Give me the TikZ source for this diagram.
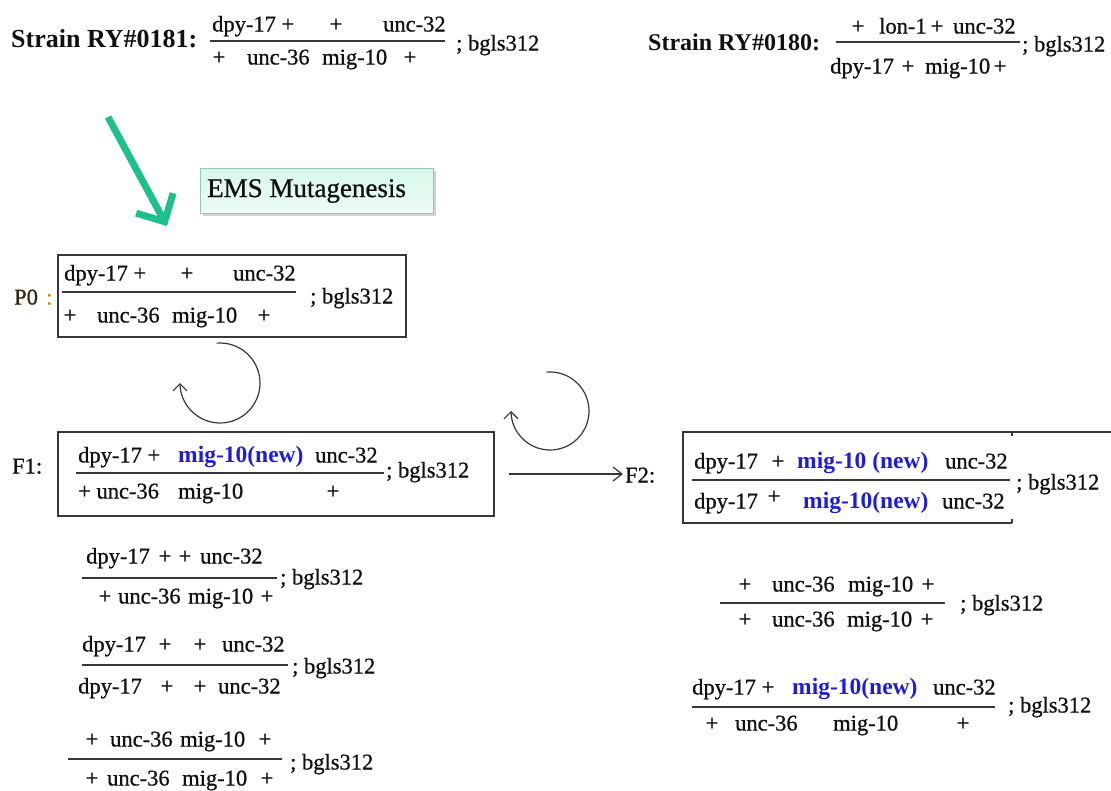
\documentclass[tikz,border=0pt]{standalone}
\usepackage{fontspec}
\setmainfont{Liberation Serif}[UprightFeatures={FakeBold=0.8}]
\usetikzlibrary{arrows.meta,shadows}
\definecolor{ink}{RGB}{17,17,17}
\definecolor{mblue}{RGB}{30,30,215}
\definecolor{emsgreen}{RGB}{32,192,140}
\definecolor{boxline}{RGB}{55,55,55}
\definecolor{pzero}{RGB}{50,40,10}
\definecolor{colonc}{RGB}{210,140,20}
\definecolor{emstop}{RGB}{214,247,232}
\definecolor{emsbot}{RGB}{238,252,246}
\definecolor{emsedge}{RGB}{150,200,182}
\newcounter{tkn}
\newcommand\gtok[4][]{\stepcounter{tkn}\node[tok,#1] (tk\arabic{tkn}) at (#2,#3) {#4};}
\newcommand\gplus[2]{\stepcounter{tkn}\node[tok,anchor=center] (tk\arabic{tkn}) at (#1,#2) {+};}
\newcommand\gnew[3]{\gtok[newtok]{#1}{#2}{#3}}
\begin{document}
\begin{tikzpicture}[x=1pt,y=-1pt,
  tok/.style={anchor=west,inner sep=0pt,yshift=-4pt,text=ink,font=\fontsize{22.5}{27}\selectfont,text height=0.7em,text depth=0.2em},
  newtok/.style={text=mblue,font=\fontsize{23.5}{28}\selectfont\bfseries},
  strain/.style={anchor=west,inner sep=0pt,text=ink,font=\fontsize{24}{28}\selectfont\bfseries,text height=0.7em,text depth=0.2em},
  frac/.style={draw=boxline,line width=1.3pt},
  genbox/.style={draw=boxline,line width=1.5pt,inner sep=0pt},
  emsbox/.style={draw=emsedge,line width=0.8pt,top color=emstop,bottom color=emsbot,inner sep=0pt,minimum width=233pt,minimum height=45pt,drop shadow={shadow xshift=2.5pt,shadow yshift=-3pt,opacity=0.35}},
  emsarrow/.style={draw=emsgreen,line width=7pt,-{Straight Barb[length=21pt,width=42pt,line width=7pt]}},
  circarrow/.style={draw=boxline,line width=1.2pt,-{Straight Barb[length=7pt,width=14pt]}},
  flow/.style={draw=boxline,line width=1.2pt,-{Straight Barb[length=9pt,width=14pt]}}
]
\useasboundingbox (0,0) rectangle (1111,790);

% ---------- Strain RY#0181 ----------
\node[strain,font=\fontsize{26}{30}\selectfont\bfseries] (s181) at (11,45) {Strain RY\#0181:};
\gtok{212}{25}{dpy-17 +}\gplus{336}{25}\gtok{383}{25}{unc-32}
\draw[frac] (210,41) -- (445,41);
\gplus{219}{58}\gtok{247}{58}{unc-36}\gtok{322}{58}{mig-10}\gplus{410}{58}
\gtok{456}{44}{; bgls312}

% ---------- Strain RY#0180 ----------
\node[strain] (s180) at (648,48) {Strain RY\#0180:};
\gplus{858}{27}\gtok{879}{27}{lon-1}\gplus{937}{27}\gtok{953}{27}{unc-32}
\draw[frac] (836,42) -- (1020,42);
\gtok{830}{67}{dpy-17}\gplus{908}{67}\gtok{925}{67}{mig-10}\gplus{1000}{67}
\gtok{1022}{45}{; bgls312}

% ---------- EMS ----------
\coordinate (ea) at (108,117);
\coordinate (eb) at (167,226);
\draw[emsarrow] (ea) -- (eb);
\node[emsbox] (ems) at (316.5,190.5) {};
\node[anchor=west,inner sep=0pt,text=ink,font=\fontsize{27}{32}\selectfont] (emstxt) at (207,191) {EMS Mutagenesis};

% ---------- P0 ----------
\node[tok,text=pzero] (p0lab) at (14,298) {P0};
\node[tok,text=colonc] (p0col) at (46,298) {:};
\node[genbox,minimum width=348pt,minimum height=82pt] (p0box) at (232,296) {};
\gtok{64}{274}{dpy-17 +}\gplus{187}{274}\gtok{233}{274}{unc-32}
\draw[frac] (62,292) -- (296,292);
\gplus{70}{316}\gtok{97}{316}{unc-36}\gtok{172}{316}{mig-10}\gplus{264}{316}
\gtok{310}{297}{; bgls312}

% ---------- circular arrows ----------
\coordinate (c1) at (220,383);
\draw[circarrow] (c1) ++(-95:40) arc[start angle=-95,end angle=180,radius=40];
\coordinate (c2) at (550,411);
\draw[circarrow] (c2) ++(-95:39) arc[start angle=-95,end angle=180,radius=39];

% ---------- F1 ----------
\node[tok] (f1lab) at (12,467) {F1:};
\node[genbox,minimum width=436pt,minimum height=84pt] (f1box) at (276,474) {};
\gtok{78}{456}{dpy-17 +}\gnew{178}{456}{mig-10(new)}\gtok{315}{456}{unc-32}
\draw[frac] (76,473) -- (384,473);
\gtok{78}{492}{+ unc-36}\gtok{178}{492}{mig-10}\gplus{333}{492}
\gtok{386}{471}{; bgls312}

% ---------- F2 ----------
\node[tok] (f2lab) at (625,476) {F2:};
\draw[flow,shorten <=14pt,shorten >=2pt] (f1box.east) -- (f1box.east -| f2lab.west);
\coordinate (f2a) at (1111,432);
\coordinate (f2b) at (683,432);
\coordinate (f2c) at (683,523);
\coordinate (f2d) at (1012,523);
\draw[draw=boxline,line width=1.5pt] (f2a) -- (f2b) -- (f2c) -- (f2d);
\draw[draw=boxline,line width=1.2pt] (1012,432) -- (1012,436) (1012,519) -- (1012,523);
\gtok{694}{462}{dpy-17}\gplus{778}{462}\gnew{797}{462}{mig-10 (new)}\gtok{945}{462}{unc-32}
\draw[frac] (692,480) -- (1010,480);
\gtok{694}{502}{dpy-17}\gplus{774}{497}\gnew{803}{502}{mig-10(new)}\gtok{942}{502}{unc-32}
\gtok{1016}{483}{; bgls312}

% ---------- lower left genotypes ----------
\gtok{86}{557}{dpy-17}\gplus{165}{557}\gplus{185}{557}\gtok{200}{557}{unc-32}
\draw[frac] (82,578) -- (277,578);
\gplus{105}{597}\gtok{118}{597}{unc-36}\gtok{188}{597}{mig-10}\gplus{267}{597}
\gtok{280}{578}{; bgls312}

\gtok{82}{645}{dpy-17}\gplus{165}{645}\gplus{200}{645}\gtok{222}{645}{unc-32}
\draw[frac] (82,665) -- (288,665);
\gtok{78}{687}{dpy-17}\gplus{167}{687}\gplus{200}{687}\gtok{218}{687}{unc-32}
\gtok{292}{667}{; bgls312}

\gplus{92}{740}\gtok{110}{740}{unc-36}\gtok{180}{740}{mig-10}\gplus{265}{740}
\draw[frac] (68,759) -- (282,759);
\gplus{92}{779}\gtok{107}{779}{unc-36}\gtok{182}{779}{mig-10}\gplus{267}{779}
\gtok{290}{763}{; bgls312}

% ---------- lower right genotypes ----------
\gplus{745}{585}\gtok{772}{585}{unc-36}\gtok{848}{585}{mig-10}\gplus{928}{585}
\draw[frac] (720,603) -- (945,603);
\gplus{745}{620}\gtok{772}{620}{unc-36}\gtok{847}{620}{mig-10}\gplus{927}{620}
\gtok{960}{604}{; bgls312}

\gtok{692}{688}{dpy-17}\gplus{768}{688}\gnew{792}{688}{mig-10(new)}\gtok{933}{688}{unc-32}
\draw[frac] (692,707) -- (995,707);
\gplus{712}{724}\gtok{735}{724}{unc-36}\gtok{833}{724}{mig-10}\gplus{963}{724}
\gtok{1008}{706}{; bgls312}
\end{tikzpicture}
\end{document}
